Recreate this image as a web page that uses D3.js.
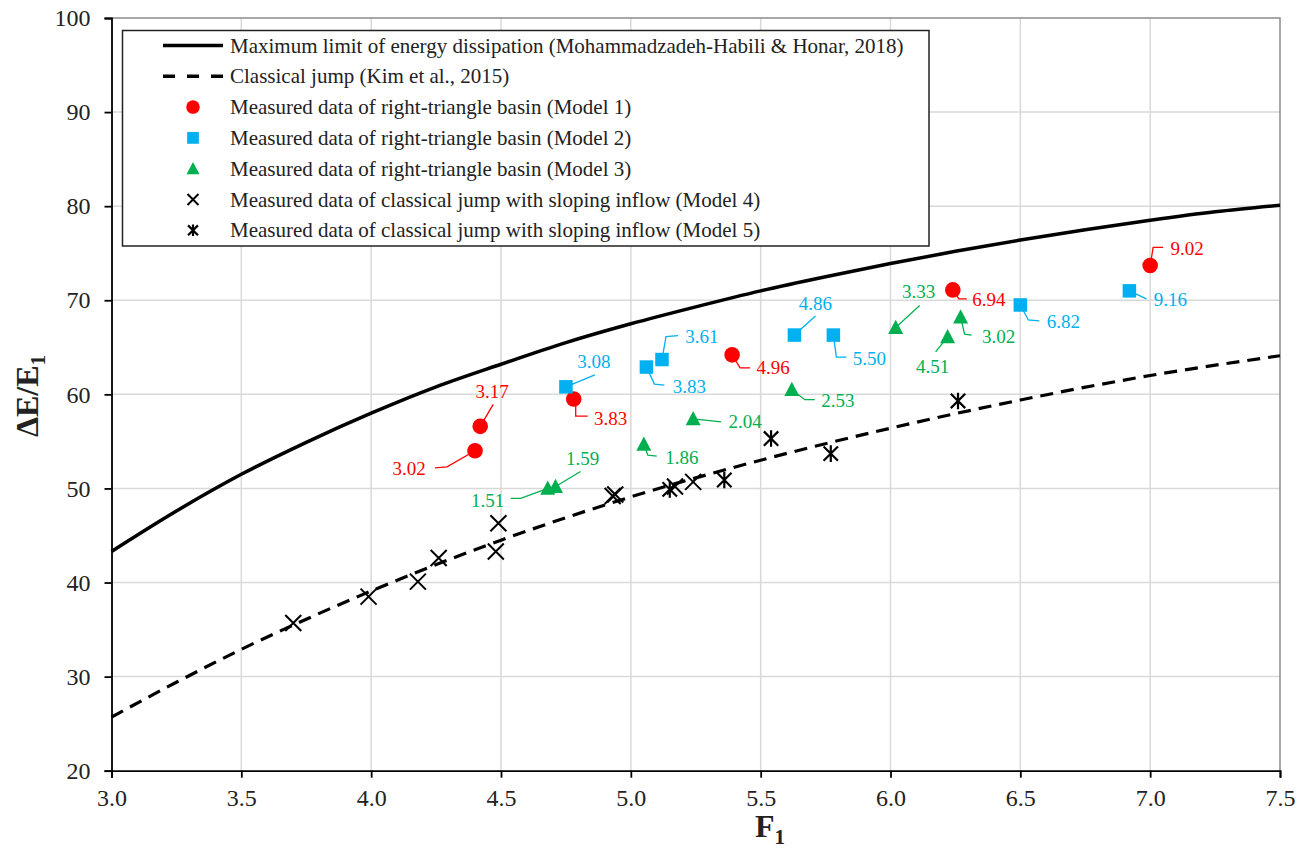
<!DOCTYPE html>
<html>
<head>
<meta charset="utf-8">
<script src="https://cdn.jsdelivr.net/npm/d3@7"></script>
<style>
  body { margin: 0; background: #fff; }
  svg { display: block; }
  text { font-family: "Liberation Serif", "Times New Roman", serif; }
</style>
</head>
<body>
<svg id="chart" width="1306" height="851"></svg>
<script>
// ---- axis ticks ----
const xTicks = [3.0, 3.5, 4.0, 4.5, 5.0, 5.5, 6.0, 6.5, 7.0, 7.5];
const yTicks = [20, 30, 40, 50, 60, 70, 80, 90, 100];

// ---- reference curves ----
const maxLimitF = [3.0, 3.25, 3.5, 3.75, 4.0, 4.25, 4.5, 4.75, 5.0, 5.25, 5.5, 5.75, 6.0, 6.25, 6.5, 6.75, 7.0, 7.25, 7.5];
const maxLimitE = [43.3, 47.6, 51.5, 54.9, 58.0, 60.8, 63.2, 65.5, 67.5, 69.3, 71.0, 72.5, 73.9, 75.2, 76.4, 77.5, 78.5, 79.4, 80.1];
const classicalF = [3.0, 3.25, 3.5, 3.75, 4.0, 4.5, 5.0, 5.5, 6.0, 6.5, 7.0, 7.5];
const classicalE = [25.7, 29.4, 32.9, 36.1, 39.1, 44.5, 49.1, 53.0, 56.4, 59.4, 62.0, 64.1];

// ---- measured data ----
const model1F = [4.40, 4.42, 4.78, 5.39, 6.24, 7.00];
const model1E = [54.0, 56.6, 59.5, 64.2, 71.1, 73.7];
const model1Labels = ["3.02", "3.17", "3.83", "4.96", "6.94", "9.02"];

const model2F = [4.75, 5.06, 5.12, 5.63, 5.78, 6.50, 6.92];
const model2E = [60.8, 62.9, 63.7, 66.3, 66.3, 69.5, 71.0];
const model2Labels = ["3.08", "3.83", "3.61", "4.86", "5.50", "6.82", "9.16"];

const model3F = [4.68, 4.71, 5.05, 5.24, 5.62, 6.02, 6.22, 6.27];
const model3E = [50.0, 50.2, 54.7, 57.4, 60.5, 67.1, 66.1, 68.2];
const model3Labels = ["1.51", "1.59", "1.86", "2.04", "2.53", "3.33", "4.51", "3.02"];

const model4F = [3.70, 3.99, 4.18, 4.26, 4.48, 4.49, 4.93, 4.94, 5.17, 5.24];
const model4E = [35.7, 38.5, 40.1, 42.6, 43.3, 46.3, 49.2, 49.35, 50.2, 50.7];

const model5F = [5.15, 5.36, 5.54, 5.77, 6.26];
const model5E = [49.9, 50.9, 55.3, 53.7, 59.3];

const legendLabels = [
  "Maximum limit of energy dissipation (Mohammadzadeh-Habili & Honar, 2018)",
  "Classical jump (Kim et al., 2015)",
  "Measured data of right-triangle basin (Model 1)",
  "Measured data of right-triangle basin (Model 2)",
  "Measured data of right-triangle basin (Model 3)",
  "Measured data of classical jump with sloping inflow (Model 4)",
  "Measured data of classical jump with sloping inflow (Model 5)"
];

// ---- label placement (pixel offsets from the marker: label centre, leader polyline) ----
const model1LabelPos = [[-66, 18], [12, -35], [37, 19], [41, 13], [36, 10], [37, -17]];
const model1Leaders = [
  [[0, 0], [-28, 16], [-40, 17]],
  [[0, 0], [13, -22]],
  [[2, 6], [2, 17], [14, 17]],
  [[0, 0], [8, 13], [18, 13]],
  [[0, 0], [6, 9], [14, 9]],
  [[0, 0], [3, -18], [13, -18]]
];
const model2LabelPos = [[28, -25], [43, 19], [40, -23], [21, -32], [36, 23], [43, 17], [41, 9]];
const model2Leaders = [
  [[0, 0], [29, -12]],
  [[0, 0], [8, 17], [18, 18]],
  [[0, 0], [4, -23], [16, -24]],
  [[0, 0], [21, -19]],
  [[0, 0], [3, 22], [13, 22]],
  [[0, 0], [8, 15], [19, 16]],
  [[0, 0], [17, 8]]
];
const model3LabelPos = [[-60, 12], [27, -28], [38, 13], [52, 3], [46, 11], [23, -36], [-15, 30], [38, 19]];
const model3Leaders = [
  [[0, 0], [-27, 10], [-37, 10]],
  [[0, 0], [25, -15]],
  [[0, 0], [4, 11], [13, 12]],
  [[0, 0], [28, 3]],
  [[0, 0], [13, 10], [23, 10]],
  [[0, 0], [24, -22]],
  [[0, 0], [-12, 15]],
  [[0, 0], [4, 17], [11, 18]]
];

(function () {
const RED = "#ff0000", BLUE = "#00b0f0", GREEN = "#00b050";

const svg = d3.select("#chart");
svg.append("rect").attr("width", 1306).attr("height", 851).attr("fill", "#fff");

const pLeft = 111.5, pRight = 1280, pTop = 18, pBottom = 770.7;
const x = d3.scaleLinear().domain([3.0, 7.5]).range([pLeft, pRight]);
const y = d3.scaleLinear().domain([20, 100]).range([pBottom, pTop]);

// grid
const grid = svg.append("g");
grid.selectAll("line.v").data(xTicks.slice(1, -1)).join("line")
  .attr("x1", d => x(d)).attr("x2", d => x(d)).attr("y1", pTop).attr("y2", pBottom)
  .attr("stroke", "#d9d9d9").attr("stroke-width", 1.5);
grid.selectAll("line.h").data(yTicks.slice(1, -1)).join("line")
  .attr("x1", pLeft).attr("x2", pRight).attr("y1", d => y(d)).attr("y2", d => y(d))
  .attr("stroke", "#d9d9d9").attr("stroke-width", 1.5);
// plot frame (top and right)
svg.append("path")
  .attr("d", `M${pLeft},${pTop}H${pRight}V${pBottom}`)
  .attr("fill", "none").attr("stroke", "#8a8a8a").attr("stroke-width", 1.5);

// axes
const xAxis = svg.append("g").attr("transform", `translate(0,${pBottom})`)
  .call(d3.axisBottom(x).tickValues(xTicks).tickFormat(d3.format(".1f")).tickSize(7).tickPadding(8));
const yAxis = svg.append("g").attr("transform", `translate(${pLeft},0)`)
  .call(d3.axisLeft(y).tickValues(yTicks).tickSize(7).tickPadding(14));
[xAxis, yAxis].forEach(g => {
  g.select(".domain").attr("stroke", "#000").attr("stroke-width", 1.8);
  g.selectAll(".tick line").attr("stroke", "#000").attr("stroke-width", 1.8);
  g.selectAll(".tick text").attr("fill", "#222")
    .style("font-family", '"Liberation Serif","Times New Roman",serif').style("font-size", "24px");
});
xAxis.selectAll(".tick text").attr("dy", "0.85em");

// axis titles
const yTitle = svg.append("text")
  .attr("transform", "translate(38,396) rotate(-90)")
  .attr("text-anchor", "middle").attr("font-weight", "bold").attr("font-size", "32px").attr("fill", "#222");
yTitle.append("tspan").text("\u0394E/E");
yTitle.append("tspan").text("1").attr("font-size", "21px").attr("dy", 7);

const xTitle = svg.append("text")
  .attr("x", 770).attr("y", 837)
  .attr("text-anchor", "middle").attr("font-weight", "bold").attr("font-size", "32px").attr("fill", "#222");
xTitle.append("tspan").text("F");
xTitle.append("tspan").text("1").attr("font-size", "21px").attr("dy", 7);

// reference curves
const plot = svg.append("g");
const line = d3.line().x(d => x(d[0])).y(d => y(d[1])).curve(d3.curveMonotoneX);
plot.append("path").datum(maxLimitF.map((f, i) => [f, maxLimitE[i]]))
  .attr("d", line).attr("fill", "none").attr("stroke", "#000").attr("stroke-width", 3.5);
plot.append("path").datum(classicalF.map((f, i) => [f, classicalE[i]]))
  .attr("d", line).attr("fill", "none").attr("stroke", "#000").attr("stroke-width", 3.2)
  .attr("stroke-dasharray", "13,8");

// marker drawing helper
function drawMarker(g, type, cx, cy, color, s) {
  if (type === "circle") {
    g.append("circle").attr("cx", cx).attr("cy", cy).attr("r", s * 0.52).attr("fill", color);
  } else if (type === "square") {
    g.append("rect").attr("x", cx - s * 0.45).attr("y", cy - s * 0.45)
      .attr("width", s * 0.9).attr("height", s * 0.9).attr("fill", color);
  } else if (type === "triangle") {
    const h = s * 0.95, w = s;
    g.append("path").attr("d", `M${cx},${cy - h * 0.55}L${cx + w / 2},${cy + h * 0.45}L${cx - w / 2},${cy + h * 0.45}Z`)
      .attr("fill", color);
  } else if (type === "x") {
    const r = s * 0.5;
    g.append("path").attr("d", `M${cx - r},${cy - r}L${cx + r},${cy + r}M${cx - r},${cy + r}L${cx + r},${cy - r}`)
      .attr("stroke", color).attr("stroke-width", 2).attr("fill", "none");
  } else if (type === "star") {
    const r = s * 0.45;
    g.append("path").attr("d", `M${cx - r},${cy - r}L${cx + r},${cy + r}M${cx - r},${cy + r}L${cx + r},${cy - r}M${cx},${cy - r * 1.15}L${cx},${cy + r * 1.15}`)
      .attr("stroke", color).attr("stroke-width", 2.2).attr("fill", "none");
  }
}

function drawSeries(F, E, type, color, size, labels, labelPos, leaders) {
  const g = plot.append("g");
  if (labels) {
    F.forEach((f, i) => {
      const px = x(f), py = y(E[i]);
      g.append("path")
        .attr("d", d3.line()(leaders[i].map(p => [px + p[0], py + p[1]])))
        .attr("fill", "none").attr("stroke", color).attr("stroke-width", 1.3);
      g.append("text")
        .attr("x", px + labelPos[i][0]).attr("y", py + labelPos[i][1])
        .attr("text-anchor", "middle").attr("dominant-baseline", "central")
        .attr("font-size", "19px").attr("fill", color).text(labels[i]);
    });
  }
  F.forEach((f, i) => drawMarker(g, type, x(f), y(E[i]), color, size));
}

drawSeries(model4F, model4E, "x", "#000", 16);
drawSeries(model5F, model5E, "star", "#000", 16);
drawSeries(model1F, model1E, "circle", RED, 15, model1Labels, model1LabelPos, model1Leaders);
drawSeries(model2F, model2E, "square", BLUE, 15, model2Labels, model2LabelPos, model2Leaders);
drawSeries(model3F, model3E, "triangle", GREEN, 15, model3Labels, model3LabelPos, model3Leaders);

// legend
const legend = svg.append("g");
legend.append("rect").attr("x", 122.5).attr("y", 30.5).attr("width", 806.5).attr("height", 215.5)
  .attr("fill", "#fff").attr("stroke", "#222").attr("stroke-width", 1.5);
const legendTypes = ["solid", "dashed", "circle", "square", "triangle", "x", "star"];
const legendColors = ["#000", "#000", RED, BLUE, GREEN, "#000", "#000"];
legendLabels.forEach((lab, i) => {
  const ly = 45.5 + i * 30.8;
  if (legendTypes[i] === "solid" || legendTypes[i] === "dashed") {
    legend.append("line").attr("x1", 163).attr("x2", 223).attr("y1", ly).attr("y2", ly)
      .attr("stroke", "#000").attr("stroke-width", 3.5)
      .attr("stroke-dasharray", legendTypes[i] === "dashed" ? "12,12" : null);
  } else {
    drawMarker(legend, legendTypes[i], 193, ly, legendColors[i],
      legendTypes[i] === "x" || legendTypes[i] === "star" ? 11 : 13);
  }
  legend.append("text").attr("x", 230).attr("y", ly).attr("dominant-baseline", "central")
    .attr("font-size", "21px").attr("fill", "#222").text(lab);
});
})();
</script>
</body>
</html>
